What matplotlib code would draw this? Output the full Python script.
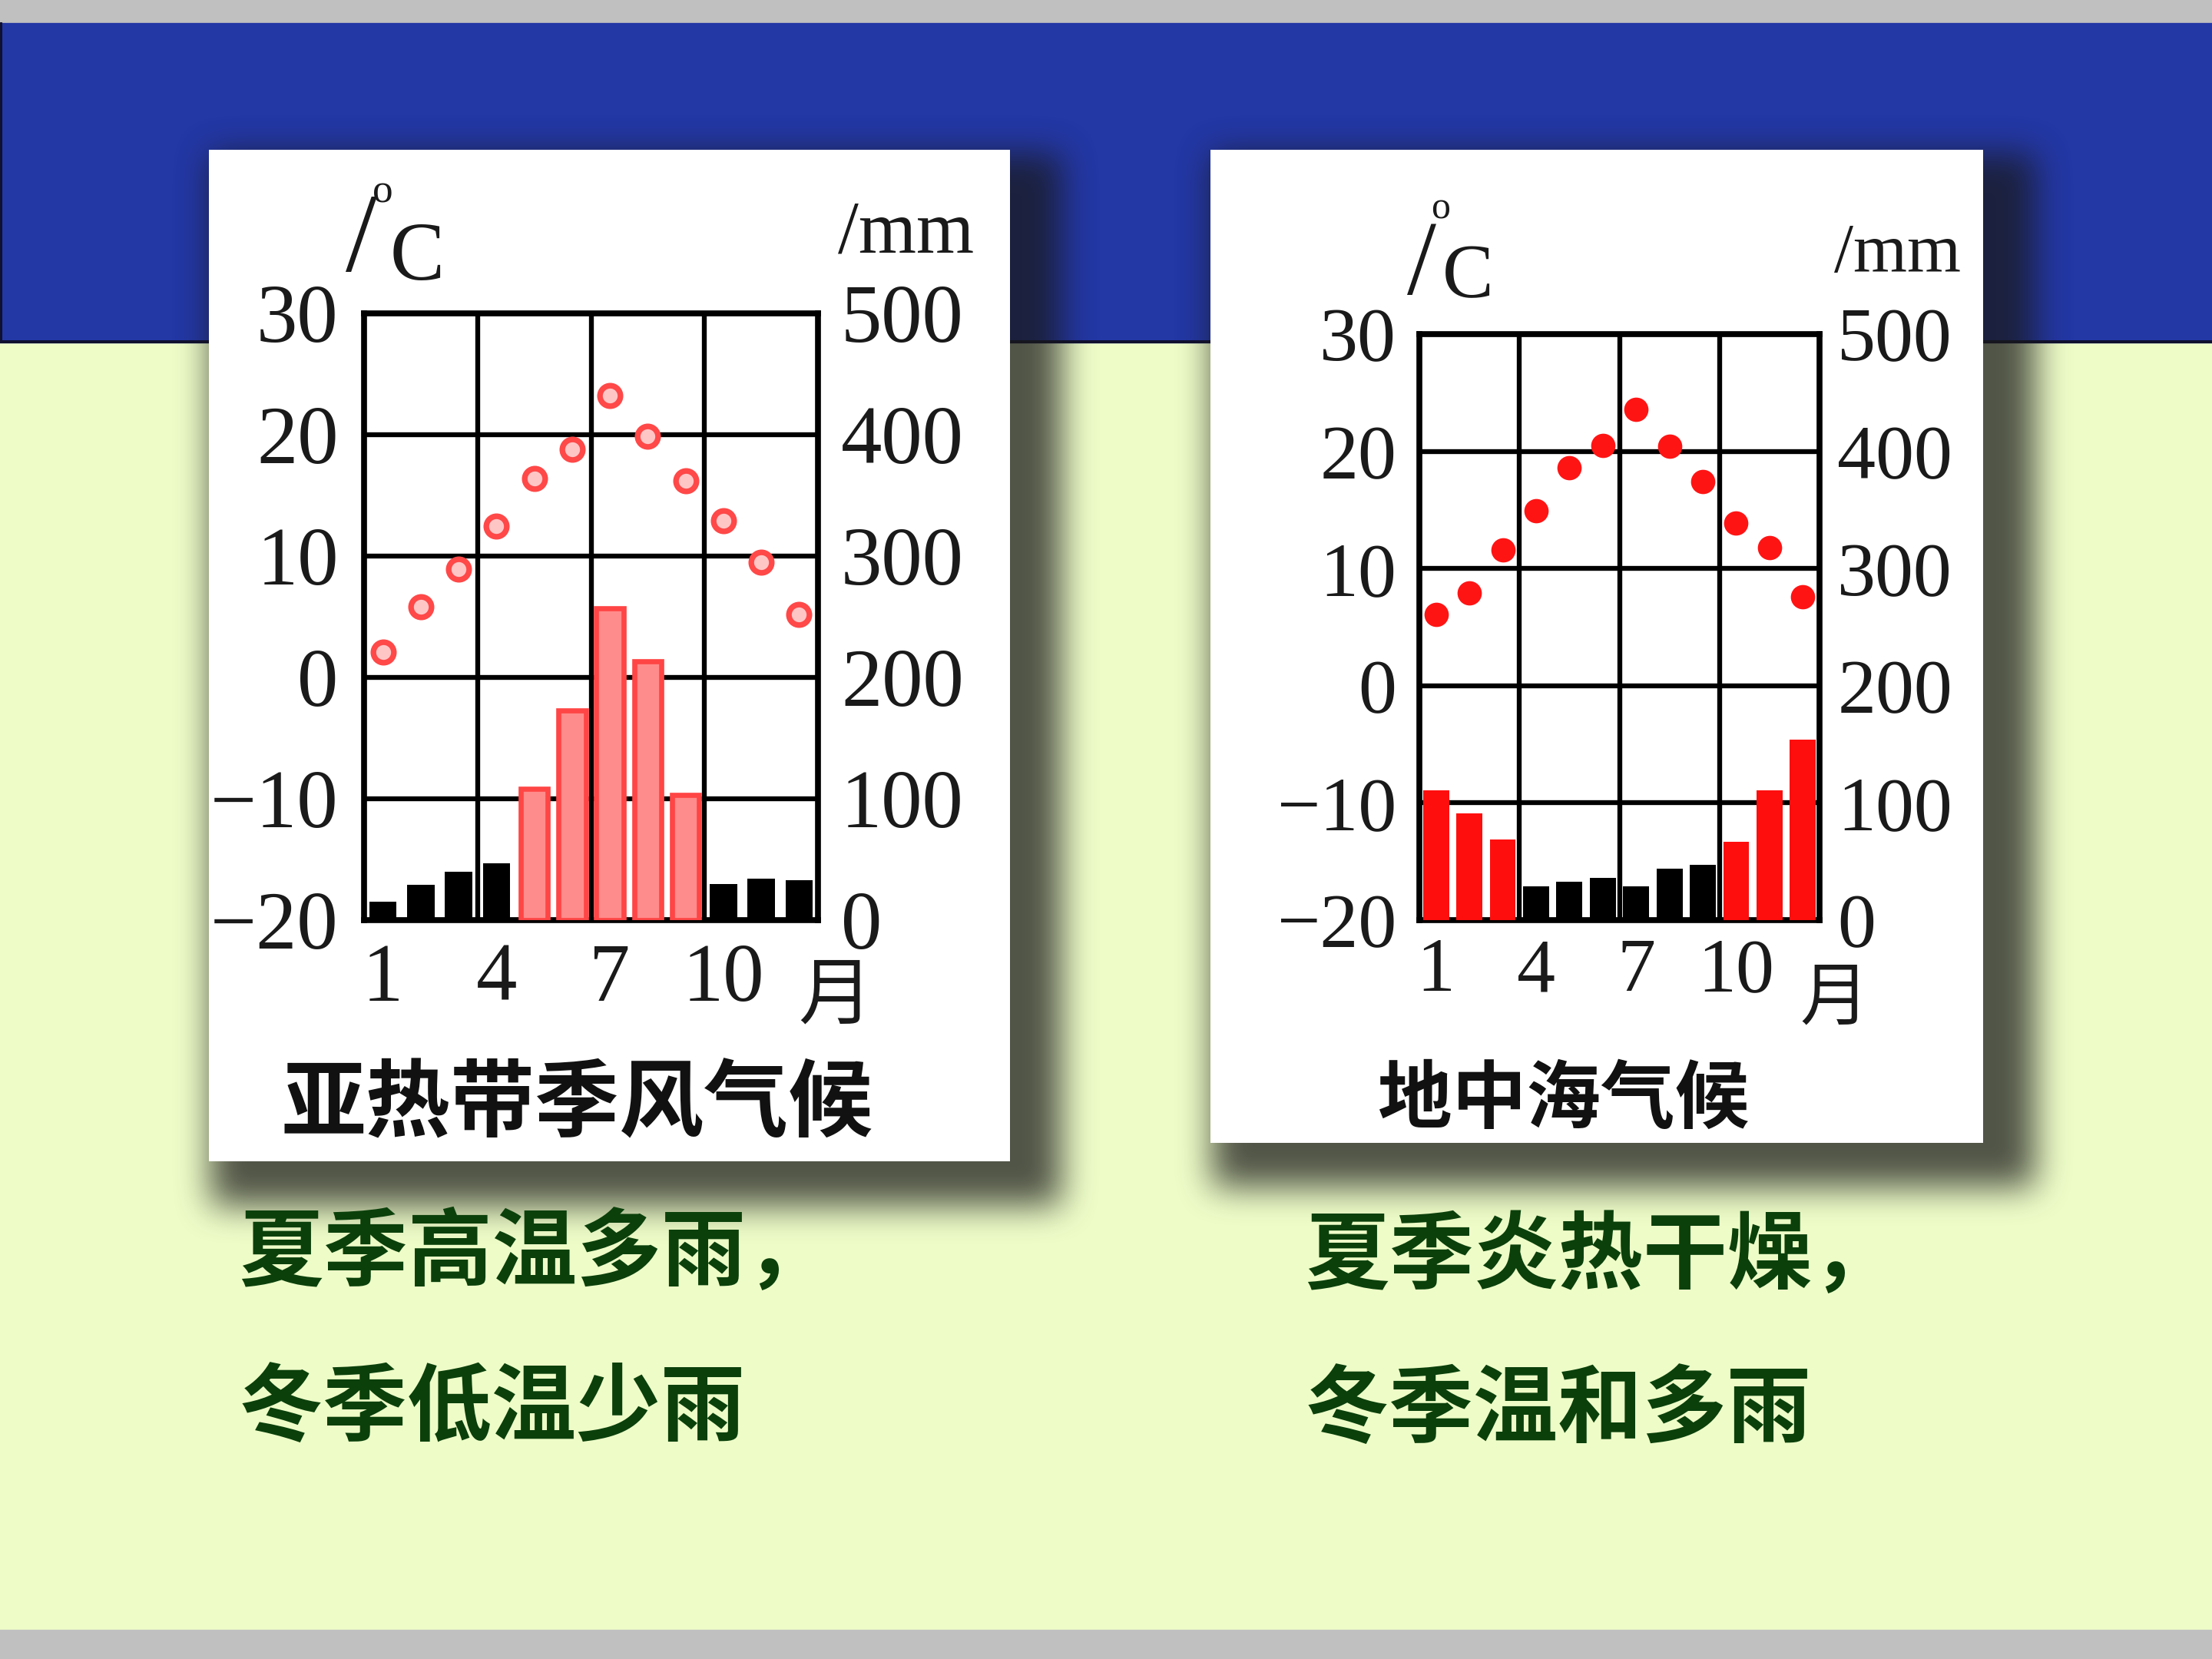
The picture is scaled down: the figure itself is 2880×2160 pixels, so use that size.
import numpy as np
import matplotlib
matplotlib.use('Agg')
import matplotlib.pyplot as plt
from matplotlib.patches import Rectangle

plt.rcParams['font.family'] = ['Liberation Serif', 'Noto Sans CJK SC', 'DejaVu Sans']

### Data
months = np.arange(1, 13)
month_ticks = [1, 4, 7, 10]
temp_ticks = [-20, -10, 0, 10, 20, 30]
rain_ticks = [0, 100, 200, 300, 400, 500]

# subtropical monsoon climate (left)
monsoon_temp = [2.1, 5.8, 8.9, 12.5, 16.4, 18.8, 23.2, 19.9, 16.2, 12.9, 9.5, 5.2]
monsoon_rain = [15, 29, 40, 47, 108, 173, 257, 213, 103, 30, 34, 33]
monsoon_wet = [0, 0, 0, 0, 1, 1, 1, 1, 1, 0, 0, 0]

# mediterranean climate (right)
med_temp = [6.1, 7.9, 11.6, 14.9, 18.6, 20.5, 23.6, 20.4, 17.4, 13.9, 11.8, 7.6]
med_rain = [111, 91, 69, 29, 33, 36, 29, 44, 47, 67, 111, 154]
med_wet = [1, 1, 1, 0, 0, 0, 0, 0, 0, 1, 1, 1]

titles = ['亚热带季风气候', '地中海气候']
notes_left = ['夏季高温多雨，', '冬季低温少雨']
notes_right = ['夏季炎热干燥，', '冬季温和多雨']


### Helpers
def box1d(a, r, axis):
    pad = [(0, 0), (0, 0)]
    pad[axis] = (r + 1, r)
    p = np.pad(a, pad, mode='edge')
    c = np.cumsum(p, axis=axis)
    n = a.shape[axis]
    if axis == 0:
        return (c[2 * r + 1:2 * r + 1 + n] - c[0:n]) / (2 * r + 1)
    return (c[:, 2 * r + 1:2 * r + 1 + n] - c[:, 0:n]) / (2 * r + 1)


def blur(a, r):
    for _ in range(3):
        a = box1d(a, r, 0)
        a = box1d(a, r, 1)
    return a


def minus(v):
    return str(v).replace('-', '\u2212')


### Slide background
W, H = 2880, 2160
fig = plt.figure(figsize=(12, 9), dpi=240)
bg = fig.add_axes([0, 0, 1, 1])
bg.set_xlim(0, W)
bg.set_ylim(H, 0)
bg.axis('off')

bg.add_patch(Rectangle((0, 0), W, H, color='#EEFDC8', zorder=0))
bg.add_patch(Rectangle((0, 0), W, 31, color='#C0C0C0', zorder=1))
bg.add_patch(Rectangle((0, 31), W, 414, color='#2337A5', zorder=1))
bg.plot([0, W], [445, 445], color='#101030', lw=1.2, zorder=1)
bg.plot([1, 1], [31, 445], color='#101030', lw=1.2, zorder=1)
bg.add_patch(Rectangle((0, 2123), W, 37, color='#C0C0C0', zorder=1))

# white panels with a soft drop shadow
panels = [(272, 195, 1043, 1317), (1576, 195, 1006, 1293)]
ds = 2
mask = np.zeros((H // ds, W // ds))
for x0, y0, w, h in panels:
    mask[(y0 + 5) // ds:(y0 + h + 58) // ds, (x0 + 2) // ds:(x0 + w + 68) // ds] = 1
mask = blur(mask, 10)
rgba = np.zeros(mask.shape + (4,))
rgba[..., :3] = 0.1
rgba[..., 3] = mask * 0.74
bg.imshow(rgba, extent=(0, W, H, 0), zorder=2, aspect='auto', interpolation='bilinear')
bg.set_xlim(0, W)
bg.set_ylim(H, 0)
for x0, y0, w, h in panels:
    bg.add_patch(Rectangle((x0, y0), w, h, facecolor='white', edgecolor='none', zorder=3))


### Climate charts
def draw_chart(rect, temps, rain, wet, fs, pad_l, pad_r, pad_b, bar_w, wet_style, dot_style, mon_drop):
    ax = fig.add_axes(rect)
    ax.set_facecolor('white')
    ax.set_xlim(0.5, 12.5)
    ax.set_ylim(-20, 30)
    ax.set_xticks(month_ticks)
    ax.set_xticklabels([str(m) for m in month_ticks])
    ax.set_xticks([3.5, 6.5, 9.5], minor=True)
    ax.set_yticks(temp_ticks)
    ax.set_yticklabels([minus(t) for t in temp_ticks])
    ax.grid(axis='y', which='major', color='black', lw=1.9)
    ax.grid(axis='x', which='minor', color='black', lw=1.9)
    ax.tick_params(axis='y', which='both', length=0, labelsize=fs, pad=pad_l, labelcolor='#1a1a1a')
    ax.tick_params(axis='x', which='both', length=0, labelsize=fs, pad=pad_b, labelcolor='#1a1a1a')
    for s in ax.spines.values():
        s.set_linewidth(2.3)

    ax2 = ax.twinx()
    ax2.set_ylim(0, 500)
    ax2.set_yticks(rain_ticks)
    ax2.set_yticklabels([str(r) for r in rain_ticks])
    ax2.tick_params(length=0, labelsize=fs, pad=pad_r, labelcolor='#1a1a1a')
    for s in ax2.spines.values():
        s.set_visible(False)

    for m, r, w in zip(months, rain, wet):
        if w:
            ax2.bar(m, r, width=bar_w, **wet_style)
        else:
            ax2.bar(m, r, width=bar_w, color='black')

    ax.plot(months, temps, linestyle='none', marker='o', **dot_style)

    # month unit, kept just clear of the right-hand "0"
    ax.annotate('月', xy=(12.95, 0), xycoords=('data', 'axes fraction'),
                xytext=(0, -pad_b - mon_drop), textcoords='offset points', ha='center', va='top',
                fontsize=fs - 3, family=['Noto Sans CJK SC'], color='#1a1a1a',
                annotation_clip=False)
    return ax


draw_chart([474 / W, 1 - 1198 / H, 591 / W, 790 / H], monsoon_temp, monsoon_rain, monsoon_wet,
           fs=32, pad_l=10, pad_r=9, pad_b=9, bar_w=0.72,
           wet_style=dict(facecolor='#FF8C8C', edgecolor='#FF4545', lw=2.0),
           dot_style=dict(ms=8, mfc='#FFC6C6', mec='#FF4848', mew=2.2),
           mon_drop=6)

draw_chart([1848 / W, 1 - 1198 / H, 521 / W, 763 / H], med_temp, med_rain, med_wet,
           fs=30, pad_l=9, pad_r=7, pad_b=7, bar_w=0.78,
           wet_style=dict(color='#FF0E0E'),
           dot_style=dict(ms=8.5, color='#FF1414', mec='#FF1414'),
           mon_drop=10)

### Unit labels (degree C and mm)
txt = dict(color='#1a1a1a', ha='center', va='center', zorder=5)
bg.text(470, 318, '/', fontsize=44, **txt)
bg.text(498, 250, 'o', fontsize=16, **txt)
bg.text(543, 338, 'C', fontsize=32, **txt)
bg.text(1180, 305, '/mm', fontsize=29, **txt)

bg.text(1851, 350, '/', fontsize=41, **txt)
bg.text(1876, 272, 'o', fontsize=15, **txt)
bg.text(1911, 362, 'C', fontsize=30, **txt)
bg.text(2470, 332, '/mm', fontsize=27, **txt)

### Chart titles
cjk = ['Noto Sans CJK SC', 'DejaVu Sans']
bg.text(751, 1440, titles[0], fontsize=33, weight='bold', family=cjk,
        color='#111111', ha='center', va='center', zorder=5)
bg.text(2036, 1432, titles[1], fontsize=29, weight='bold', family=cjk,
        color='#111111', ha='center', va='center', zorder=5)

### Summary notes under the charts
green = '#0B400B'
for i, s in enumerate(notes_left):
    bg.text(311, 1633 + i * 202, s, fontsize=33, weight='bold', family=cjk,
            color=green, ha='left', va='center', zorder=5)
for i, s in enumerate(notes_right):
    bg.text(1699, 1637 + i * 200, s, fontsize=33, weight='bold', family=cjk,
            color=green, ha='left', va='center', zorder=5)

fig.savefig('out.png', dpi=240)
